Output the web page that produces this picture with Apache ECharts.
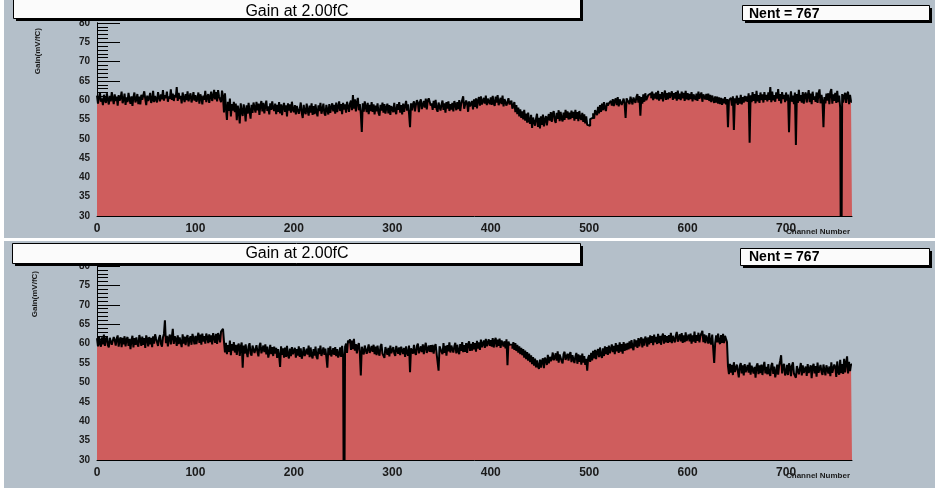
<!DOCTYPE html>
<html><head><meta charset="utf-8">
<script src="https://cdn.jsdelivr.net/npm/echarts@6/dist/echarts.min.js"></script>
<style>html,body{margin:0;padding:0;background:#fff}#c{width:935px;height:488px}</style>
</head><body><div id="c"></div>
<script>
const titleText = 'Gain at 2.00fC';
const statsText = 'Nent = 767';
const xTitle = 'Channel Number';
const yTitle = 'Gain(mV/fC)';
const nBins = 767;
const xMajorTicks = [0,100,200,300,400,500,600,700];
const xMinorTicks = [0,20,40,60,80,100,120,140,160,180,200,220,240,260,280,300,320,340,360,380,400,420,440,460,480,500,520,540,560,580,600,620,640,660,680,700,720,740,760];

const gainTop = [
61.2,59.1,60.8,62.0,59.6,60.5,58.7,61.4,60.0,59.3,61.8,60.2,58.9,61.1,59.7,62.1,60.4,59.0,61.5,59.8,
60.9,58.6,61.3,59.9,60.6,62.2,59.2,60.1,61.7,58.8,60.7,59.5,61.9,60.3,59.1,61.0,58.5,60.8,62.0,59.4,
60.2,61.6,59.0,60.9,58.9,61.4,60.1,59.6,62.3,60.4,58.7,61.2,59.8,60.6,61.9,59.3,60.0,62.4,59.5,61.1,
60.6,59.4,62.1,60.8,59.7,61.5,60.2,62.6,59.9,61.3,60.5,62.2,59.6,61.0,60.4,62.8,60.1,61.7,59.8,61.4,
60.7,63.4,59.8,61.9,60.3,61.1,59.2,62.0,60.6,59.5,61.6,60.0,62.3,59.7,60.9,61.8,59.4,60.5,62.1,59.9,
61.3,59.6,60.4,62.0,59.1,61.5,60.7,58.9,61.2,60.1,62.4,59.5,60.8,61.6,59.3,60.9,62.2,59.8,61.0,62.7,
60.2,62.1,59.7,62.6,60.9,61.4,59.5,62.5,61.0,56.8,61.8,58.0,54.9,59.6,57.2,60.4,55.8,59.0,57.3,59.6,
56.9,59.1,54.8,58.6,57.2,54.0,59.2,57.0,55.9,58.9,57.5,54.5,58.7,56.5,59.3,57.1,55.2,58.8,56.7,59.4,
58.9,56.8,59.6,57.4,59.1,56.2,58.7,59.8,57.1,59.3,56.6,58.5,59.9,57.2,58.4,56.3,59.2,57.5,59.7,58.0,
57.2,59.1,56.4,58.8,57.0,59.5,56.6,58.9,56.1,58.3,59.3,57.0,58.7,55.8,59.2,57.3,58.9,56.8,59.6,57.5,
56.9,58.7,56.3,58.5,59.0,56.5,57.8,59.4,56.7,55.4,58.8,57.0,56.4,59.1,57.4,56.0,58.6,56.8,59.2,56.2,
58.5,56.4,58.9,57.0,55.8,58.7,57.2,59.3,56.5,57.6,59.1,56.6,56.0,58.8,57.5,56.3,59.0,56.7,58.2,59.2,
57.1,58.8,56.5,59.4,56.9,58.3,59.7,57.2,59.0,56.4,59.3,57.6,58.9,56.8,59.6,58.4,57.0,59.2,59.9,57.4,
61.3,57.8,60.2,57.1,59.5,60.6,57.4,59.0,56.5,51.8,59.2,57.0,59.7,58.3,56.9,59.3,56.4,58.8,57.2,59.5,
57.0,58.9,56.3,58.6,57.1,59.2,56.7,56.0,58.8,57.3,59.4,56.8,59.0,56.5,58.1,59.1,56.6,58.7,56.2,58.5,
58.8,56.9,59.3,57.2,56.4,59.0,57.5,59.5,56.8,58.7,56.3,59.1,57.0,58.6,59.8,57.3,58.9,56.5,53.0,59.2,
57.4,59.0,59.7,57.1,58.8,60.0,59.3,56.9,59.5,60.2,57.7,57.2,59.8,58.1,60.4,57.6,59.9,60.5,60.8,58.6,
59.2,57.5,59.8,58.0,60.1,57.7,57.0,59.4,59.6,57.3,58.9,59.9,57.5,59.2,56.8,59.5,57.8,59.7,57.2,59.0,
57.6,59.3,57.1,59.8,58.9,57.4,59.5,57.7,60.0,57.2,59.1,59.6,61.0,57.8,57.5,59.9,59.2,57.0,59.7,58.4,
58.0,59.8,57.6,60.2,58.3,60.5,57.9,60.0,60.8,58.6,61.0,58.9,58.4,60.6,59.1,61.2,58.7,60.4,60.9,59.0,
60.7,58.8,61.1,59.2,58.5,60.9,59.4,61.3,58.7,58.2,60.6,59.0,61.2,58.4,60.3,60.8,58.6,58.1,60.5,58.9,
59.4,59.9,57.8,58.2,59.5,56.9,58.7,56.4,58.1,55.8,57.6,55.4,57.1,55.0,57.5,54.7,56.5,54.2,56.8,54.6,
53.9,56.2,52.8,55.5,56.0,53.4,55.2,56.5,53.1,55.4,52.7,55.8,53.6,56.3,53.2,55.0,55.9,53.5,55.3,56.4,
54.7,56.9,54.4,56.5,57.2,54.8,54.1,56.7,55.2,57.4,54.6,57.0,55.3,54.5,56.8,54.9,57.5,55.4,57.1,55.0,
56.8,55.1,57.3,55.4,57.0,54.7,57.5,55.2,56.9,54.6,57.2,55.5,54.9,56.7,54.4,56.3,54.0,55.8,53.6,53.2,
53.4,55.1,54.9,55.5,56.6,55.2,57.4,56.8,56.1,58.3,56.6,58.7,57.0,59.1,57.4,59.5,57.9,57.2,59.3,58.6,
59.2,58.9,59.8,58.6,60.3,58.5,59.9,60.5,58.7,60.8,58.4,60.2,60.6,58.8,58.3,60.4,59.0,55.4,60.5,59.9,
60.2,59.0,60.9,61.4,58.9,60.7,61.2,59.3,60.9,61.6,59.4,61.1,56.0,60.8,59.1,61.5,59.6,61.8,60.0,59.5,
61.3,60.9,61.8,60.5,62.2,60.0,61.7,60.4,62.0,60.2,62.4,59.9,61.6,60.3,62.1,59.7,61.4,62.5,60.1,61.8,
60.2,62.0,60.6,61.6,62.3,60.1,61.8,60.4,62.1,59.9,62.5,60.3,61.7,60.0,62.2,60.5,61.9,59.8,62.4,60.2,
61.8,60.0,61.6,60.3,62.1,59.7,61.5,61.9,60.1,61.7,59.8,62.2,60.4,59.9,62.0,59.6,61.5,61.8,60.2,61.6,
60.1,61.7,59.8,61.4,59.5,61.2,61.6,59.3,61.0,59.4,60.9,59.1,60.7,59.0,60.6,58.8,60.4,59.2,60.8,58.9,
60.3,53.0,60.0,59.7,60.6,58.6,61.0,52.3,60.5,59.2,61.2,58.8,60.6,59.1,61.4,58.9,60.8,59.4,61.1,59.7,
61.0,59.6,61.8,49.0,61.3,59.5,62.1,59.8,61.6,59.2,62.4,59.7,61.3,59.3,62.0,60.0,61.5,59.4,62.1,60.1,
61.4,59.7,62.0,60.1,63.4,59.5,62.2,60.0,61.3,59.6,62.0,60.4,62.9,59.8,61.6,59.2,62.1,60.3,61.4,59.5,
62.0,59.9,61.5,51.7,60.3,62.3,59.6,61.2,59.0,62.0,48.4,61.6,59.3,62.7,59.8,61.3,59.4,62.1,59.1,61.4,
62.0,59.4,61.2,62.6,59.5,61.7,59.0,62.2,60.1,61.0,59.6,62.0,59.3,61.8,62.8,59.2,61.4,59.8,53.0,60.8,
59.2,61.7,59.9,61.8,59.0,62.1,62.9,59.1,61.5,59.8,61.9,59.3,62.4,59.5,61.2,58.0,0,61.6,59.4,61.1,
61.9,59.3,61.5,62.2,59.0,61.4,59.6
];

const gainBottom = [
61.4,59.3,61.9,60.0,59.2,61.6,59.8,62.3,59.4,61.2,61.8,59.6,59.0,61.5,62.0,59.7,59.3,61.7,60.9,59.5,
61.3,62.1,59.2,61.0,61.6,59.1,61.5,59.8,61.9,59.3,61.1,61.7,59.4,61.2,58.6,60.9,62.0,59.0,61.4,59.7,
61.6,59.9,59.2,62.2,61.1,59.4,61.8,59.7,61.4,58.9,62.1,61.2,59.3,61.7,59.8,61.5,59.1,61.9,60.0,62.4,
61.3,61.8,59.4,61.4,62.2,59.9,59.2,61.6,62.5,66.0,60.1,62.0,59.3,61.5,62.3,59.8,61.7,63.8,59.9,61.9,
61.2,59.4,62.1,59.9,61.6,61.3,59.1,62.4,60.0,61.8,59.6,61.5,62.2,59.3,61.1,61.9,59.7,62.5,61.2,59.8,
62.0,59.9,61.6,62.8,60.2,62.3,59.7,62.6,60.5,61.9,60.0,62.6,61.7,60.1,62.4,60.4,62.1,59.8,62.7,61.6,
60.2,62.5,59.9,62.7,61.8,60.3,63.1,63.3,63.8,60.5,57.7,60.2,57.3,59.6,57.9,60.8,57.0,59.9,58.2,60.4,
57.7,59.7,57.1,59.4,60.0,56.8,59.2,60.3,53.8,59.5,57.4,59.8,57.8,56.5,59.3,60.1,57.5,56.9,59.5,59.9,
57.6,57.1,59.6,57.9,56.7,59.4,60.2,57.5,57.0,59.5,57.8,59.8,57.2,59.2,56.4,57.7,59.7,57.3,59.1,56.8,
59.2,57.4,58.9,56.3,58.6,56.9,54.0,59.3,57.1,58.8,56.4,59.0,56.6,59.4,57.0,56.2,58.7,56.8,59.1,57.3,
57.1,58.9,56.4,58.6,56.9,59.3,56.6,58.8,56.1,57.3,59.1,56.8,56.3,58.7,57.2,59.5,56.5,59.0,57.0,56.2,
58.6,56.9,59.2,56.6,56.0,58.8,57.3,59.5,56.8,56.4,59.0,57.1,58.7,56.5,53.8,58.9,57.0,59.3,56.7,56.3,
58.8,57.1,59.1,56.8,58.6,56.4,57.2,59.0,56.6,59.4,57.0,0,59.2,60.0,57.6,60.8,60.2,61.1,58.4,60.8,
58.6,61.2,58.2,59.9,57.5,59.4,60.1,57.7,51.8,59.2,59.6,57.2,59.5,60.0,57.4,57.8,59.8,57.6,57.1,59.4,
57.9,59.7,57.3,59.2,57.0,59.5,57.7,56.9,59.3,59.9,57.4,57.6,56.3,59.1,59.6,57.1,58.9,56.7,59.5,57.5,
57.2,59.1,57.5,56.8,59.4,59.8,57.4,59.0,57.0,59.2,59.6,57.3,58.9,56.6,59.3,57.6,56.9,59.5,52.6,58.8,
59.2,57.4,59.7,57.7,57.1,59.4,60.0,57.5,57.0,59.3,57.8,59.8,57.3,59.1,60.2,57.6,57.2,59.5,57.9,59.6,
57.8,59.7,57.4,59.2,59.9,57.5,57.1,53.0,59.3,59.8,57.9,57.3,60.1,57.6,59.4,56.9,59.6,58.0,60.3,57.7,
59.5,60.0,57.7,59.3,60.2,57.5,59.7,58.0,57.3,59.9,58.1,60.4,57.8,59.6,57.9,60.1,57.6,59.8,60.6,58.1,
59.9,58.2,60.4,58.5,60.1,57.9,60.7,58.7,60.3,58.4,61.0,59.1,58.6,60.8,58.9,61.2,59.3,58.8,61.1,59.4,
60.9,59.2,61.4,59.0,60.7,61.5,59.1,61.0,59.4,61.3,58.9,60.8,61.2,59.3,60.6,58.8,61.1,54.4,60.5,59.7,
60.2,59.8,58.7,60.4,58.4,60.1,58.1,59.7,57.7,59.3,57.3,58.9,57.0,58.6,56.4,58.2,56.0,57.8,55.6,57.4,
55.2,57.0,54.7,56.5,54.3,56.1,53.9,55.7,54.1,53.5,55.9,53.8,55.5,56.2,53.7,56.4,55.8,54.5,57.1,54.9,
56.6,55.5,56.1,57.7,55.7,56.4,57.5,55.6,58.0,55.1,57.2,57.6,55.5,54.9,57.3,57.9,55.8,55.3,57.4,55.6,
57.1,57.8,55.2,57.0,57.5,55.0,56.7,57.6,54.8,57.2,55.3,57.0,54.6,57.4,55.1,56.8,54.5,56.1,53.0,56.4,
57.0,55.3,57.6,55.7,58.1,56.2,58.4,56.0,57.9,58.6,56.5,59.0,57.0,56.3,58.8,56.8,59.3,57.3,59.1,57.1,
59.5,57.5,57.0,59.8,57.8,59.4,57.3,60.1,58.0,59.7,57.6,60.3,57.9,59.9,57.4,60.4,58.1,60.0,58.3,60.2,
58.5,60.6,58.8,60.9,59.1,58.3,61.1,59.2,60.8,58.9,61.4,59.3,61.0,61.6,59.0,61.3,59.5,61.8,61.1,59.2,
61.6,59.8,62.1,60.2,61.9,59.6,62.3,60.3,61.7,59.9,62.5,60.1,62.0,59.7,61.8,62.6,60.0,62.2,60.3,61.9,
60.2,62.2,60.4,62.8,60.1,62.0,62.5,60.3,62.1,63.0,60.5,60.0,62.4,60.6,62.7,60.2,62.1,60.4,62.9,60.7,
60.3,62.3,60.6,62.6,60.0,62.1,60.5,63.1,60.2,62.2,60.7,62.8,60.3,62.0,62.6,63.3,60.4,62.4,60.1,62.1,
61.8,60.0,62.7,60.4,59.8,62.3,61.9,55.0,60.2,62.1,60.3,62.6,60.5,59.9,62.2,60.2,62.5,60.1,62.0,61.8,
60.4,54.2,52.1,54.8,52.5,54.5,51.9,55.2,52.7,52.2,54.6,52.9,51.3,54.3,55.0,52.3,54.4,51.8,54.7,52.6,
52.2,54.5,52.5,55.1,52.0,54.3,54.8,52.3,54.0,51.2,54.2,54.9,52.1,54.4,52.4,54.6,51.9,54.1,55.3,52.3,
54.0,52.1,54.7,52.4,51.7,54.4,55.0,52.2,54.1,51.3,52.6,54.6,52.0,54.3,55.6,57.0,52.3,54.2,54.8,51.8,
52.5,54.5,51.9,54.9,54.0,51.6,54.3,55.2,52.3,52.7,51.2,54.2,54.6,52.1,52.6,55.0,51.8,54.4,52.4,52.0,
54.1,51.7,54.7,52.4,52.0,54.4,51.1,54.0,54.8,52.3,54.2,51.5,55.1,52.5,52.2,54.5,52.7,51.9,54.6,54.3,
51.8,54.4,54.9,52.3,54.1,51.6,55.2,52.5,52.1,54.6,54.0,51.4,55.4,52.7,52.0,55.8,52.4,54.7,52.2,56.1,
52.6,55.0,56.7,52.3,55.3,52.9,54.6
];

if (gainTop.length !== nBins || gainBottom.length !== nBins) {
  throw new Error('bin count ' + gainTop.length + ' / ' + gainBottom.length);
}

const FONT = 'Liberation Sans, Arial, Helvetica, sans-serif';
const RED = '#cf5d5d';
const BG = '#b4bfc9';

function steps(vals) {
  const d = vals.map((v, i) => [i, v]);
  d.push([vals.length, vals[vals.length - 1]]);
  return d;
}

function xMajor(gi) {
  return {
    type: 'value', gridIndex: gi, min: 0, max: nBins, position: 'bottom',
    axisLine: { onZero: false, lineStyle: { color: '#000', width: 1 } },
    axisTick: { customValues: xMajorTicks, inside: true, length: 8, lineStyle: { color: '#000' } },
    axisLabel: { customValues: xMajorTicks, margin: 7, fontSize: 12, fontWeight: 'bold', color: '#1a1a1a', fontFamily: FONT },
    splitLine: { show: false }
  };
}
function xMinor(gi) {
  return {
    type: 'value', gridIndex: gi, min: 0, max: nBins, position: 'bottom',
    axisLine: { show: false, onZero: false },
    axisTick: { customValues: xMinorTicks, inside: true, length: 4, lineStyle: { color: '#000' } },
    axisLabel: { show: false }, splitLine: { show: false }
  };
}
function yLeft(gi) {
  return {
    type: 'value', gridIndex: gi, min: 30, max: 80, interval: 5, position: 'left',
    axisLine: { show: true, lineStyle: { color: '#000', width: 1 } },
    axisTick: { show: true, inside: true, length: 23, lineStyle: { color: '#000' } },
    minorTick: { show: true, splitNumber: 5, length: 11, lineStyle: { color: '#000' } },
    axisLabel: { margin: 7, fontSize: 10, fontWeight: 'bold', color: '#1a1a1a', fontFamily: FONT },
    splitLine: { show: false }
  };
}
function yRight(gi) {
  return {
    type: 'value', gridIndex: gi, min: 30, max: 80, position: 'right',
    axisLine: { show: true, lineStyle: { color: '#000', width: 1 } },
    axisTick: { show: false }, axisLabel: { show: false }, splitLine: { show: false }
  };
}
function histSeries(xi, yi, vals) {
  return {
    type: 'line', xAxisIndex: xi, yAxisIndex: yi, data: steps(vals), step: 'end',
    showSymbol: false, symbol: 'none', clip: true,
    lineStyle: { color: '#000', width: 2 },
    areaStyle: { color: RED, opacity: 1, origin: 'start' },
    z: 2
  };
}
function box(x, y, w, h) {
  return [
    { type: 'rect', z: 50, shape: { x: x + 3, y: y + 3, width: w, height: h }, style: { fill: '#000' } },
    { type: 'rect', z: 51, shape: { x: x + 0.5, y: y + 0.5, width: w, height: h }, style: { fill: '#fbfbfb', stroke: '#000', lineWidth: 1 } }
  ];
}
function axisText(x, y, text, rot, align) {
  return { type: 'text', z: 45, x: x, y: y, rotation: rot, style: { text: text, align: align, verticalAlign: 'middle', font: 'bold 8px ' + FONT, fill: '#1a1a1a' } };
}

const chart = echarts.init(document.getElementById('c'), null, { renderer: 'canvas' });
chart.setOption({
  animation: false,
  backgroundColor: BG,
  grid: [
    { left: 97, top: 23, width: 755, height: 193 },
    { left: 97, top: 266, width: 755, height: 194 }
  ],
  xAxis: [xMajor(0), xMinor(0), xMajor(1), xMinor(1)],
  yAxis: [yLeft(0), yRight(0), yLeft(1), yRight(1)],
  series: [histSeries(0, 0, gainTop), histSeries(2, 2, gainBottom)],
  title: [
    { text: titleText, left: 297, textAlign: 'center', top: 4, padding: 0, z: 60, textStyle: { fontSize: 16, fontWeight: 'normal', color: '#000', fontFamily: FONT } },
    { text: statsText, left: 749, top: 7, padding: 0, z: 60, textStyle: { fontSize: 14, fontWeight: 'bold', color: '#000', fontFamily: FONT } },
    { text: titleText, left: 297, textAlign: 'center', top: 246, padding: 0, z: 60, textStyle: { fontSize: 16, fontWeight: 'normal', color: '#000', fontFamily: FONT } },
    { text: statsText, left: 749, top: 250, padding: 0, z: 60, textStyle: { fontSize: 14, fontWeight: 'bold', color: '#000', fontFamily: FONT } }
  ],
  graphic: [
    { type: 'rect', z: 40, shape: { x: 0, y: 0, width: 4, height: 488 }, style: { fill: '#fff' } },
    { type: 'rect', z: 40, shape: { x: 0, y: 238, width: 935, height: 3 }, style: { fill: '#fff' } },
    ...box(13, -3, 567, 21),
    ...box(742, 5, 187, 15),
    ...box(12, 243, 568, 20),
    ...box(740, 248, 189, 17),
    axisText(38, 28, yTitle, Math.PI / 2, 'right'),
    axisText(35, 271, yTitle, Math.PI / 2, 'right'),
    axisText(850, 231.5, xTitle, 0, 'right'),
    axisText(850, 476, xTitle, 0, 'right')
  ]
});
</script></body></html>
